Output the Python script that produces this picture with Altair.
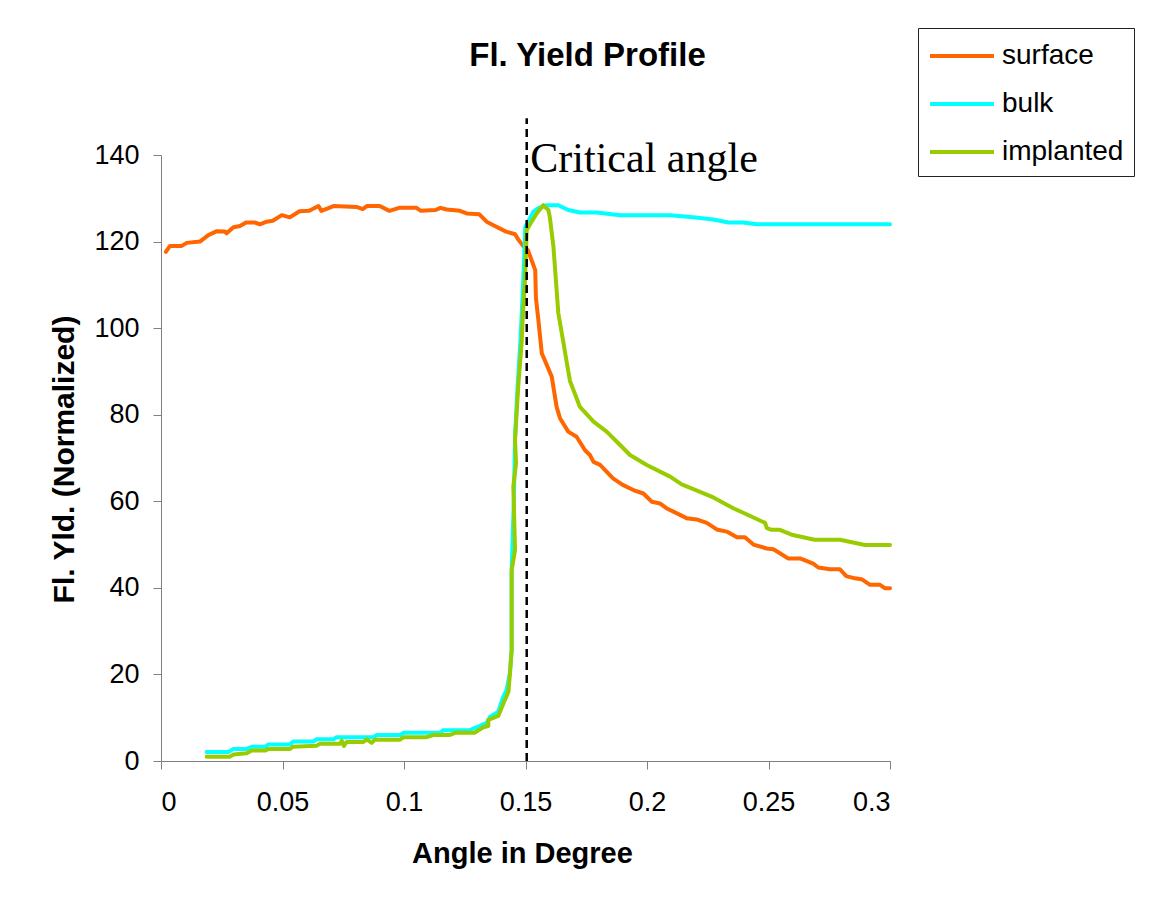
import altair as alt
import pandas as pd

# ---- data ----
series_names = ["surface", "bulk", "implanted"]
series_colors = ["#FF6600", "#00FFFF", "#99CC00"]

surface_x = [0.002, 0.0037, 0.0085, 0.0106, 0.016, 0.0195, 0.023, 0.0263, 0.027, 0.0298,
             0.0325, 0.035, 0.0387, 0.0407, 0.0435, 0.046, 0.0497, 0.053, 0.057, 0.061,
             0.0648, 0.066, 0.071, 0.0805, 0.083, 0.0847, 0.090, 0.094, 0.098, 0.105,
             0.107, 0.113, 0.115, 0.1176, 0.123, 0.1258, 0.131, 0.134, 0.1374, 0.142,
             0.1457, 0.147, 0.149, 0.151, 0.1525, 0.154, 0.1543, 0.1553, 0.1567, 0.1608,
             0.1628, 0.1642, 0.1676, 0.171, 0.1745, 0.1765, 0.178, 0.1807, 0.186, 0.190,
             0.1944, 0.1985, 0.202, 0.2053, 0.208, 0.2163, 0.2204, 0.2246, 0.2287, 0.2328,
             0.237, 0.2403, 0.2438, 0.2493, 0.252, 0.2547, 0.258, 0.263, 0.2684, 0.2705,
             0.2753, 0.2794, 0.282, 0.2856, 0.2883, 0.2918, 0.2959, 0.298, 0.3]
surface_y = [117.6, 119.0, 119.0, 119.7, 120.0, 121.5, 122.4, 122.3, 121.9, 123.3,
             123.6, 124.4, 124.4, 124.0, 124.6, 124.8, 126.1, 125.6, 127.0, 127.1,
             128.2, 127.1, 128.2, 128.0, 127.5, 128.2, 128.2, 127.1, 127.8, 127.8,
             127.1, 127.3, 127.8, 127.4, 127.1, 126.5, 126.3, 124.6, 123.6, 122.3,
             121.7, 120.5, 119.0, 118.0, 115.7, 113.4, 106.9, 101.9, 94.2, 88.8,
             81.8, 79.2, 76.1, 74.9, 71.8, 70.7, 69.1, 68.4, 65.3, 63.8,
             62.6, 61.8, 59.9, 59.5, 58.4, 56.1, 55.8, 55.0, 53.5, 53.0,
             51.7, 51.7, 50.0, 49.1, 48.9, 48.0, 46.8, 46.8, 45.6, 44.7,
             44.3, 44.3, 42.7, 42.2, 42.0, 40.7, 40.7, 39.9, 39.9]

bulk_x = [0.0188, 0.0277, 0.0298, 0.0353, 0.0373, 0.0428, 0.0442, 0.0531, 0.0544, 0.0627,
          0.064, 0.071, 0.0723, 0.0874, 0.0888, 0.0984, 0.0997, 0.115, 0.116, 0.127,
          0.1285, 0.1313, 0.134, 0.1354, 0.1388, 0.1409, 0.1422, 0.1436, 0.1443, 0.1443,
          0.1452, 0.1457, 0.1467, 0.148, 0.149, 0.1497, 0.1499, 0.1532, 0.1553, 0.1587,
          0.1635, 0.1676, 0.1724, 0.1793, 0.189, 0.2095, 0.219, 0.2273, 0.2335, 0.2396,
          0.2451, 0.2684, 0.3]
bulk_y = [2.1, 2.1, 2.8, 2.8, 3.3, 3.3, 3.8, 3.8, 4.5, 4.5,
          5.0, 5.0, 5.5, 5.5, 6.0, 6.0, 6.5, 6.5, 7.1, 7.1,
          7.5, 8.1, 8.8, 10.2, 11.4, 14.9, 16.4, 20.3, 25.6, 44.0,
          60.0, 75.0, 86.0, 98.0, 110.0, 120.0, 123.4, 126.9, 127.7, 128.4,
          128.4, 127.3, 126.7, 126.7, 126.1, 126.1, 125.6, 125.1, 124.4, 124.4,
          124.0, 124.0, 124.0]

implanted_x = [0.0188, 0.0284, 0.0298, 0.0353, 0.0373, 0.0428, 0.0442, 0.0531, 0.0544, 0.064,
               0.0654, 0.0737, 0.0744, 0.0753, 0.0764, 0.0833, 0.0846, 0.0867, 0.088, 0.0984,
               0.0997, 0.1093, 0.112, 0.1189, 0.121, 0.129, 0.1326, 0.1347, 0.1347, 0.1388,
               0.1409, 0.143, 0.1436, 0.1443, 0.1443, 0.1443, 0.1457, 0.145, 0.1461, 0.1457,
               0.147, 0.1484, 0.149, 0.1498, 0.1505, 0.1525, 0.1546, 0.1573, 0.1594, 0.16,
               0.1615, 0.1635, 0.1655, 0.167, 0.1683, 0.1724, 0.178, 0.1834, 0.1882, 0.193,
               0.1999, 0.2095, 0.2143, 0.2273, 0.2355, 0.2486, 0.2493, 0.2513, 0.2547, 0.26,
               0.269, 0.2794, 0.2897, 0.3]
implanted_y = [1.0, 1.0, 1.5, 1.8, 2.4, 2.4, 2.8, 2.8, 3.3, 3.5,
               4.0, 4.0, 4.7, 3.5, 4.4, 4.4, 5.0, 4.2, 4.9, 4.9,
               5.5, 5.5, 6.0, 6.0, 6.5, 6.5, 7.8, 8.1, 9.5, 10.4,
               13.3, 16.0, 20.3, 25.6, 33.3, 44.1, 48.7, 63.4, 68.8, 74.2,
               86.5, 96.5, 104.0, 111.1, 122.7, 124.6, 126.5, 128.4, 127.3, 125.7,
               118.8, 103.5, 97.0, 92.0, 87.8, 81.8, 78.4, 76.1, 73.4, 70.7,
               68.4, 65.7, 63.9, 60.9, 58.4, 55.0, 53.8, 53.4, 53.4, 52.2,
               51.1, 51.1, 49.9, 49.9]

x_ticks = [0, 0.05, 0.1, 0.15, 0.2, 0.25, 0.3]
y_ticks = [0, 20, 40, 60, 80, 100, 120, 140]

critical_x = [0.1505]
critical_y0 = [0]
critical_y1 = [148.5]
note_text = ["Critical angle"]
note_x = [0.152]
note_y = [136]

# ---- build tables ----
frames = []
for name, xs, ys in [("surface", surface_x, surface_y),
                     ("bulk", bulk_x, bulk_y),
                     ("implanted", implanted_x, implanted_y)]:
    f = pd.DataFrame({"angle": xs, "yld": ys})
    f["series"] = name
    f["idx"] = range(len(f))
    frames.append(f)
df = pd.concat(frames, ignore_index=True)

rule_df = pd.DataFrame({"x": critical_x, "y0": critical_y0, "y1": critical_y1})
note_df = pd.DataFrame({"x": note_x, "y": note_y, "t": note_text})

FONT = "Liberation Sans"

x_enc = alt.X("angle:Q",
              scale=alt.Scale(domain=[0, 0.3], nice=False, zero=False),
              axis=alt.Axis(values=x_ticks, labelExpr="format(datum.value, '~g')",
                            title="Angle in Degree", titleX=361, titleY=101,
                            titleAlign="center", titleBaseline="alphabetic",
                            titleFontSize=29, labelPadding=20))
y_enc = alt.Y("yld:Q",
              scale=alt.Scale(domain=[0, 140], nice=False),
              axis=alt.Axis(values=y_ticks, title="Fl. Yld. (Normalized)",
                            titleX=-88, titleY=304, titleAngle=270,
                            titleAlign="center", titleBaseline="alphabetic",
                            titleFontSize=30, labelPadding=14))
color_enc = alt.Color("series:N",
                      scale=alt.Scale(domain=series_names, range=series_colors),
                      legend=alt.Legend(title=None, orient="none", legendX=757, legendY=-127,
                                        strokeColor="#222222", fillColor="white", padding=10,
                                        symbolType="M-1,0L3,0", symbolSize=1024,
                                        symbolStrokeWidth=4, labelFontSize=28,
                                        labelFont=FONT, labelColor="black",
                                        rowPadding=16, labelOffset=38))

layers = []
for name in series_names:
    layers.append(
        alt.Chart(df).transform_filter(alt.datum.series == name)
        .mark_line(strokeWidth=4, strokeJoin="round", strokeCap="round")
        .encode(x=x_enc, y=y_enc, color=color_enc, order=alt.Order("idx:Q"))
    )

rule = alt.Chart(rule_df).mark_rule(color="black", strokeWidth=2.5, strokeDash=[8, 5]).encode(
    x="x:Q", y="y0:Q", y2="y1:Q")
note = alt.Chart(note_df).mark_text(font="Liberation Serif", fontSize=42, align="left",
                                    baseline="alphabetic", color="black").encode(
    x="x:Q", y="y:Q", text="t:N")

chart = alt.layer(*layers, rule, note).properties(
    width=729, height=606,
    autosize=alt.AutoSizeParams(type="none"),
    padding={"left": 153, "top": 147, "right": 256, "bottom": 136},
    title=alt.TitleParams("Fl. Yield Profile", font=FONT, fontSize=33, fontWeight="bold",
                          anchor="middle", frame="group", dx=62, offset=0, dy=71,
                          baseline="alphabetic", color="black"),
).configure(background="white").configure_view(stroke=None).configure_axis(
    grid=False, domainColor="#808080", tickColor="#808080", tickSize=8,
    labelFont=FONT, labelFontSize=27, labelColor="black",
    titleFont=FONT, titleFontWeight="bold", titleColor="black",
)

chart.save("out.html", embed_options={"renderer": "svg", "actions": False})
